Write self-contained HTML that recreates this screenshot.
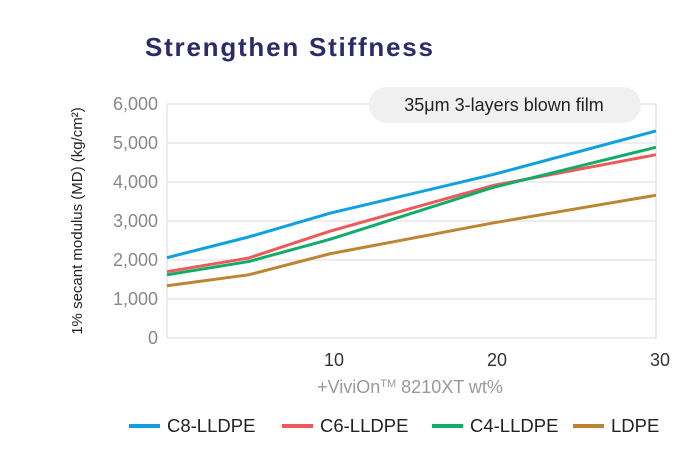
<!DOCTYPE html>
<html><head><meta charset="utf-8"><style>
html,body{margin:0;padding:0;background:#fff;}
body{width:700px;height:468px;overflow:hidden;font-family:"Liberation Sans",Arial,sans-serif;}
</style></head><body>
<svg width="700" height="468" xmlns="http://www.w3.org/2000/svg" font-family="Liberation Sans, Arial, sans-serif">
<text x="145" y="56" font-size="26" font-weight="bold" fill="#2b2a6b" textLength="288">Strengthen Stiffness</text>
<g id="grid"></g>
<g id="yticks"></g>
<g id="xticks"></g>
<rect x="369" y="87" width="272" height="36" rx="18" fill="#f0f0f0"/>
<text x="504" y="111" font-size="18" fill="#222" text-anchor="middle">35μm 3-layers blown film</text>
<g id="series"></g>
<text transform="translate(82,221) rotate(-90)" font-size="15" fill="#222" text-anchor="middle">1% secant modulus (MD) (kg/cm²)</text>
<text x="410" y="393" font-size="18" fill="#999" text-anchor="middle">+ViviOn<tspan font-size="11" dy="-6">TM</tspan><tspan dy="6"> 8210XT wt%</tspan></text>
<g id="legend"></g>
</svg>
<script>
const xValues=[0,5,10,20,30];
const xTickLabels=[10,20,30];
const yTickValues=[0,1000,2000,3000,4000,5000,6000];
const seriesNames=["C8-LLDPE","C6-LLDPE","C4-LLDPE","LDPE"];
const c8=[2060,2590,3200,4190,5310];
const c6=[1700,2050,2740,3910,4700];
const c4=[1620,1960,2530,3860,4890];
const ldpe=[1340,1620,2160,2950,3660];
const colors=["#0ea0e2","#ee5a5a","#10ad6a","#bd8532"];
const L=167,R=656,T=104,B=338;
const xs=v=>L+(v/30)*(R-L);
const ys=v=>B-(v/6000)*(B-T);
const NS="http://www.w3.org/2000/svg";
function mk(t,a,p){const e=document.createElementNS(NS,t);for(const k in a)e.setAttribute(k,a[k]);p.appendChild(e);return e;}
const grid=document.getElementById('grid'),yt=document.getElementById('yticks'),xt=document.getElementById('xticks');
yTickValues.forEach(v=>{
  const l=mk('line',{x1:L,x2:R,y1:ys(v),y2:ys(v),stroke:'#e2e2e2','stroke-width':1.3},grid);
  
  
  const t=mk('text',{x:158,y:ys(v)+6,'font-size':18,fill:'#888','text-anchor':'end'},yt);
  t.textContent=v.toLocaleString('en-US');
  
  
});
const vl=mk('line',{x1:L,x2:L,y1:T,y2:B,stroke:'#e2e2e2','stroke-width':1.3},grid);


const vr=mk('line',{x1:R,x2:R,y1:T,y2:B,stroke:'#e2e2e2','stroke-width':1.3},grid);


xTickLabels.forEach(v=>{
  const t=mk('text',{x:xs(v)+4,y:366,'font-size':18,fill:'#333','text-anchor':'middle'},xt);
  t.textContent=v;
  
  
});
const sg=document.getElementById('series');
[c8,c6,c4,ldpe].forEach((d,i)=>{
  const p=mk('polyline',{points:d.map((v,j)=>xs(xValues[j])+','+ys(v)).join(' '),fill:'none',stroke:colors[i],'stroke-width':3,'stroke-linejoin':'round'},sg);
  
  
});
const lg=document.getElementById('legend');
const lx=[129,282,432,573];
seriesNames.forEach((n,i)=>{
  const g=mk('g',{},lg);
  
  
  mk('line',{x1:lx[i],x2:lx[i]+31,y1:426,y2:426,stroke:colors[i],'stroke-width':4},g);
  const t=mk('text',{x:lx[i]+38,y:432,'font-size':18.5,fill:'#222'},g);
  t.textContent=n;
});
</script>
</body></html>
